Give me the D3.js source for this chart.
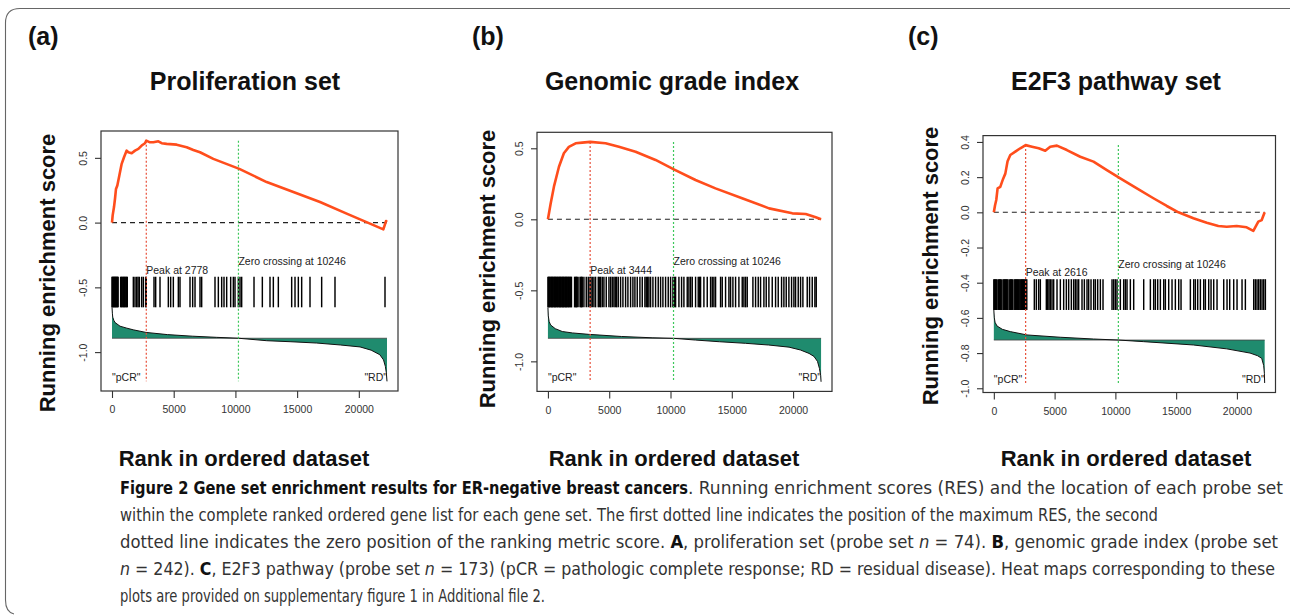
<!DOCTYPE html>
<html><head><meta charset="utf-8">
<script src="https://cdn.jsdelivr.net/npm/d3@7"></script>
<style>body{margin:0;background:#fff}svg{display:block}</style>
</head><body><svg id="fig" width="1290" height="615"></svg>
<script>
// ---------------- data ----------------
const N = 22283;
const panelTags = ["(a)", "(b)", "(c)"];
const panelTitles = ["Proliferation set", "Genomic grade index", "E2F3 pathway set"];
const peakRanks = [2778, 3444, 2616];
const zeroCrossings = [10246, 10246, 10246];
const xTickValues = [0, 5000, 10000, 15000, 20000];
const yTicksA = [-1.0, -0.5, 0.0, 0.5];
const yTicksB = [-1.0, -0.5, 0.0, 0.5];
const yTicksC = [-1.0, -0.8, -0.6, -0.4, -0.2, 0.0, 0.2, 0.4];

// running enrichment score [rank, RES]
const resA = [[0,0],[54,0.056],[162,0.12],[243,0.184],[324,0.26],[432,0.287],[595,0.364],[784,0.454],[973,0.505],[1189,0.556],[1324,0.543],[1594,0.536],[1864,0.556],[2134,0.569],[2404,0.595],[2674,0.613],[2778,0.633],[3080,0.62],[3350,0.62],[3755,0.628],[4025,0.613],[4430,0.608],[5240,0.602],[5645,0.592],[6050,0.582],[6591,0.561],[7131,0.543],[8211,0.492],[10318,0.415],[12533,0.313],[14694,0.236],[16855,0.159],[19015,0.069],[20906,-0.008],[21987,-0.052],[22203,0.012],[22283,0.005]];
const resB = [[0,0],[220,0.11],[490,0.23],[900,0.37],[1300,0.465],[1710,0.51],[2260,0.535],[2800,0.54],[3444,0.545],[4700,0.535],[5790,0.51],[7150,0.476],[8780,0.418],[10270,0.352],[12040,0.277],[13670,0.218],[15840,0.148],[18040,0.077],[19940,0.042],[21030,0.037],[21850,0.014],[22283,0]];
const resC = [[0,0],[100,0.04],[200,0.07],[310,0.136],[530,0.145],[760,0.19],[945,0.22],[1130,0.29],[1355,0.326],[1765,0.345],[2180,0.364],[2616,0.382],[3140,0.373],[3690,0.364],[4230,0.35],[4640,0.373],[5190,0.379],[6010,0.354],[7110,0.316],[8200,0.288],[9300,0.24],[10400,0.193],[11770,0.136],[13130,0.08],[14230,0.036],[15190,0],[16420,-0.034],[17520,-0.059],[18470,-0.078],[19160,-0.082],[19980,-0.078],[20800,-0.085],[21350,-0.105],[21760,-0.053],[22040,-0.044],[22283,0]];

// ranking metric curve (drawn around a baseline) [rank, value]
const metricA = [[0,-0.654],[30,-0.70],[60,-0.73],[150,-0.755],[250,-0.772],[650,-0.80],[1200,-0.815],[1730,-0.828],[2750,-0.848],[4500,-0.865],[6500,-0.877],[8480,-0.886],[10246,-0.893],[12540,-0.912],[14500,-0.92],[16590,-0.93],[18500,-0.945],[20100,-0.96],[21000,-0.985],[21700,-1.02],[22000,-1.06],[22150,-1.11],[22230,-1.16],[22283,-1.226]];
const metricB = [[0,-0.62],[30,-0.68],[100,-0.72],[220,-0.744],[600,-0.77],[1170,-0.79],[2000,-0.80],[3340,-0.81],[6000,-0.825],[8500,-0.834],[10246,-0.838],[12040,-0.85],[14000,-0.862],[16110,-0.873],[18000,-0.885],[19670,-0.90],[20600,-0.92],[21300,-0.944],[21700,-0.965],[21990,-1.0],[22150,-1.05],[22250,-1.10],[22283,-1.144]];
const metricC = [[0,-0.555],[40,-0.60],[100,-0.625],[260,-0.646],[700,-0.665],[1355,-0.678],[2730,-0.697],[5460,-0.71],[8200,-0.72],[10246,-0.726],[12310,-0.735],[16420,-0.754],[19160,-0.776],[21080,-0.80],[21700,-0.815],[22040,-0.83],[22200,-0.87],[22260,-0.915],[22283,-0.97]];
const metricBaselines = [-0.893, -0.838, -0.726];

// hit band [top, bottom] and hit ranks
const hitBands = [[-0.418, -0.654], [-0.404, -0.62], [-0.38, -0.555]];
const hitsA = [0,45,90,135,180,225,270,315,360,405,450,495,700,760,820,880,940,1000,1060,1120,1180,1240,1729,1864,1999,2110,2215,2404,2539,2728,2778,3404,3539,3890,4565,4754,4970,5375,5510,6321,6537,6727,7131,7266,8346,8617,8887,9076,9292,9616,9832,9967,10237,10372,10507,11507,12182,12803,13073,13478,14559,14829,15099,15369,16044,16989,18069,22121];
const hitsB = [0,60,120,180,240,300,360,420,480,540,600,660,720,780,840,900,960,1020,1080,1140,1200,1260,1320,1380,1440,1500,1560,1620,1680,1740,1800,1860,1920,2175,2257,2338,2392,2529,2665,2746,2800,2936,3127,3290,3426,3507,3616,3752,3888,4106,4187,4296,4432,4568,4758,4976,5112,5248,5384,5492,5601,5737,5927,6118,6335,6525,6743,6933,7096,7287,7504,7695,7912,8021,8130,8238,8374,8565,8782,8999,9190,9380,9598,9815,10006,10196,10305,10414,10686,10903,11093,11365,11501,11637,11773,12045,12262,12371,12453,12725,12997,13269,13405,13540,13676,14084,14220,14492,14764,14900,15090,15308,15580,15852,15988,16124,16259,16722,16939,17157,17347,17619,17809,18027,18299,18571,18788,19060,19250,19441,19658,19876,20066,20202,20420,20610,20800,21154,21344,21562,21779,21888];
const hitsC = [0,60,130,200,270,400,470,540,610,750,820,890,960,1030,1100,1170,1310,1380,1450,1520,1660,1730,1800,1870,1940,2010,2080,2150,2220,2290,2360,2430,2500,2570,2640,2710,3332,3497,3689,3826,4320,4430,4540,4649,4786,4923,5198,5472,5746,5966,6158,6377,6569,6706,6844,6981,7255,7447,7666,7804,7996,8215,8352,8544,8763,8983,9724,9861,9998,10135,10409,10684,10821,10958,11232,11507,12330,12879,13152,13290,13482,13701,13976,14112,14387,14661,14935,15210,15402,16170,16444,16581,16773,16993,17267,17404,17678,17871,18090,18364,18913,19187,19406,19735,20010,20421,20695,21381,21518,21655,21792,21930,22067,22204,22341];

// caption: each line is a list of [style, text] segments
const captionLines = [
  [["b","Figure 2 Gene set enrichment results for ER-negative breast cancers"],["r",". Running enrichment scores (RES) and the location of each probe set"]],
  [["r","within the complete ranked ordered gene list for each gene set. The first dotted line indicates the position of the maximum RES, the second"]],
  [["r","dotted line indicates the zero position of the ranking metric score. "],["b","A"],["r",", proliferation set (probe set "],["i","n"],["r"," = 74). "],["b","B"],["r",", genomic grade index (probe set"]],
  [["i","n"],["r"," = 242). "],["b","C"],["r",", E2F3 pathway (probe set "],["i","n"],["r"," = 173) (pCR = pathologic complete response; RD = residual disease). Heat maps corresponding to these"]],
  [["r","plots are provided on supplementary figure 1 in Additional file 2."]]
];

// ---------------- layout ----------------
const panels = [
  {res: resA, metric: metricA, hits: hitsA, yTicks: yTicksA, box: {l:101, r:398, t:131, b:391}, tagX: 28, titleX: 245, yTitleX: 55, yTitleY: 273, xTitleX: 244},
  {res: resB, metric: metricB, hits: hitsB, yTicks: yTicksB, box: {l:537, r:832, t:132.3, b:391.4}, tagX: 472, titleX: 672, yTitleX: 495, yTitleY: 269, xTitleX: 674},
  {res: resC, metric: metricC, hits: hitsC, yTicks: yTicksC, box: {l:983, r:1275.5, t:135.6, b:392.5}, tagX: 908, titleX: 1116, yTitleX: 938, yTitleY: 266, xTitleX: 1126}
];
const FONT = "'Liberation Sans', Arial, Helvetica, sans-serif";
const CAPFONT = "'Liberation Sans Narrow', 'DejaVu Sans Condensed', 'Open Sans', sans-serif";
const svg = d3.select("#fig");

// outer frame
svg.append("path")
  .attr("d", "M1290,8.5 H20 Q5.5,8.5 5.5,23 V600 Q5.5,612 14,614")
  .attr("fill", "none").attr("stroke", "#666").attr("stroke-width", 1.1);

panels.forEach((p, i) => {
  const g = svg.append("g");
  const bx = p.box;
  const x = d3.scaleLinear().domain([-0.04 * N, 1.04 * N]).range([bx.l, bx.r]);
  const ymax = d3.max(p.res, d => d[1]);
  const ymin = d3.min(p.metric, d => d[1]);
  const pad = 0.04 * (ymax - ymin);
  const y = d3.scaleLinear().domain([ymin - pad, ymax + pad]).range([bx.b, bx.t]);

  g.append("text").attr("x", p.tagX).attr("y", 45).text(panelTags[i])
    .attr("font-family", FONT).attr("font-weight", "bold").attr("font-size", 25).attr("fill", "#111");
  g.append("text").attr("x", p.titleX).attr("y", 90).attr("text-anchor", "middle").text(panelTitles[i])
    .attr("font-family", FONT).attr("font-weight", "bold").attr("font-size", 25).attr("fill", "#111");

  g.append("text").attr("transform", `translate(${p.yTitleX},${p.yTitleY}) rotate(-90)`)
    .attr("text-anchor", "middle").text("Running enrichment score")
    .attr("font-family", FONT).attr("font-weight", "bold").attr("font-size", 22).attr("fill", "#111");
  g.append("text").attr("x", p.xTitleX).attr("y", 466).attr("text-anchor", "middle").text("Rank in ordered dataset")
    .attr("font-family", FONT).attr("font-weight", "bold").attr("font-size", 22).attr("fill", "#111");

  const base = metricBaselines[i];
  g.append("path").datum(p.metric)
    .attr("d", d3.area().x(d => x(d[0])).y0(y(base)).y1(d => y(d[1])))
    .attr("fill", "#1f8b6e");
  g.append("line").attr("x1", x(0)).attr("x2", x(N)).attr("y1", y(base)).attr("y2", y(base))
    .attr("stroke", "#444").attr("stroke-width", 0.8);
  g.append("path").datum(p.metric)
    .attr("d", d3.line().x(d => x(d[0])).y(d => y(d[1])))
    .attr("fill", "none").attr("stroke", "#111").attr("stroke-width", 1);

  const band = hitBands[i];
  g.append("g").selectAll("line").data(p.hits).join("line")
    .attr("x1", d => x(d)).attr("x2", d => x(d))
    .attr("y1", y(band[0])).attr("y2", y(band[1]))
    .attr("stroke", "#000").attr("stroke-width", 1.45);

  g.append("line").attr("x1", x(0)).attr("x2", x(N)).attr("y1", y(0)).attr("y2", y(0))
    .attr("stroke", "#222").attr("stroke-width", 1.1).attr("stroke-dasharray", "5,4");

  g.append("line").attr("x1", x(peakRanks[i])).attr("x2", x(peakRanks[i]))
    .attr("y1", y(ymax)).attr("y2", y(ymin))
    .attr("stroke", "#e8503a").attr("stroke-width", 1.2).attr("stroke-dasharray", "2,2");
  g.append("line").attr("x1", x(zeroCrossings[i])).attr("x2", x(zeroCrossings[i]))
    .attr("y1", y(ymax)).attr("y2", y(ymin))
    .attr("stroke", "#3cc85a").attr("stroke-width", 1.2).attr("stroke-dasharray", "2,2");

  g.append("path").datum(p.res)
    .attr("d", d3.line().x(d => x(d[0])).y(d => y(d[1])))
    .attr("fill", "none").attr("stroke", "#ff4d1c").attr("stroke-width", 2.6).attr("stroke-linejoin", "round");

  const small = 10.5;
  g.append("text").attr("x", x(peakRanks[i])).attr("y", y(band[0]) - 2.7).text(`Peak at ${peakRanks[i]}`)
    .attr("font-family", FONT).attr("font-size", small).attr("fill", "#222");
  g.append("text").attr("x", x(zeroCrossings[i])).attr("y", y(band[0]) - 11.3).text(`Zero crossing at ${zeroCrossings[i]}`)
    .attr("font-family", FONT).attr("font-size", small).attr("fill", "#222");
  g.append("text").attr("x", x(0)).attr("y", bx.b - 10).text('"pCR"')
    .attr("font-family", FONT).attr("font-size", small).attr("fill", "#222");
  g.append("text").attr("x", x(N)).attr("y", bx.b - 10).attr("text-anchor", "end").text('"RD"')
    .attr("font-family", FONT).attr("font-size", small).attr("fill", "#222");

  g.append("rect").attr("x", bx.l).attr("y", bx.t).attr("width", bx.r - bx.l).attr("height", bx.b - bx.t)
    .attr("fill", "none").attr("stroke", "#333").attr("stroke-width", 1.2);

  const xa = g.append("g").attr("transform", `translate(0,${bx.b})`)
    .call(d3.axisBottom(x).tickValues(xTickValues).tickFormat(d => String(d)).tickSize(7).tickPadding(8));
  xa.select(".domain").remove();
  xa.selectAll("line").attr("stroke", "#333").attr("stroke-width", 1.1);
  xa.selectAll("text").attr("font-family", FONT).attr("font-size", small).attr("fill", "#333");

  const ya = g.append("g").attr("transform", `translate(${bx.l},0)`)
    .call(d3.axisLeft(y).tickValues(p.yTicks).tickFormat(d => d.toFixed(1)).tickSize(6));
  ya.select(".domain").remove();
  ya.selectAll("line").attr("stroke", "#333").attr("stroke-width", 1.1);
  ya.selectAll("text")
    .attr("font-family", FONT).attr("font-size", small).attr("fill", "#333")
    .attr("text-anchor", "middle").attr("dy", null).attr("x", null)
    .attr("transform", "translate(-14,0) rotate(-90)");
});

// caption: each segment is its own text element spread over its span
const capSpans = [[[120, 688], [688, 1283]], [[120, 1158]], [[120, 1278]], [[120, 1275]], [[120, 545]]];
const capY = [494, 521, 548, 575, 602];
captionLines.forEach((line, k) => {
  const spans = capSpans[k];
  const groups = spans.length === line.length ? line.map(s => [s]) : [line];
  groups.forEach((segs, j) => {
    const [x0, x1] = spans[j];
    const t = svg.append("text").attr("x", x0).attr("y", capY[k])
      .attr("font-family", CAPFONT).attr("font-stretch", "condensed").attr("font-size", 17.5)
      .attr("textLength", x1 - x0).attr("lengthAdjust", "spacingAndGlyphs");
    segs.forEach(([s, txt]) => {
      t.append("tspan").text(txt)
        .attr("font-weight", s === "b" ? "bold" : "normal")
        .attr("font-style", s === "i" ? "italic" : "normal")
        .attr("fill", s === "b" ? "#111" : "#333");
    });
  });
});
</script></body></html>
